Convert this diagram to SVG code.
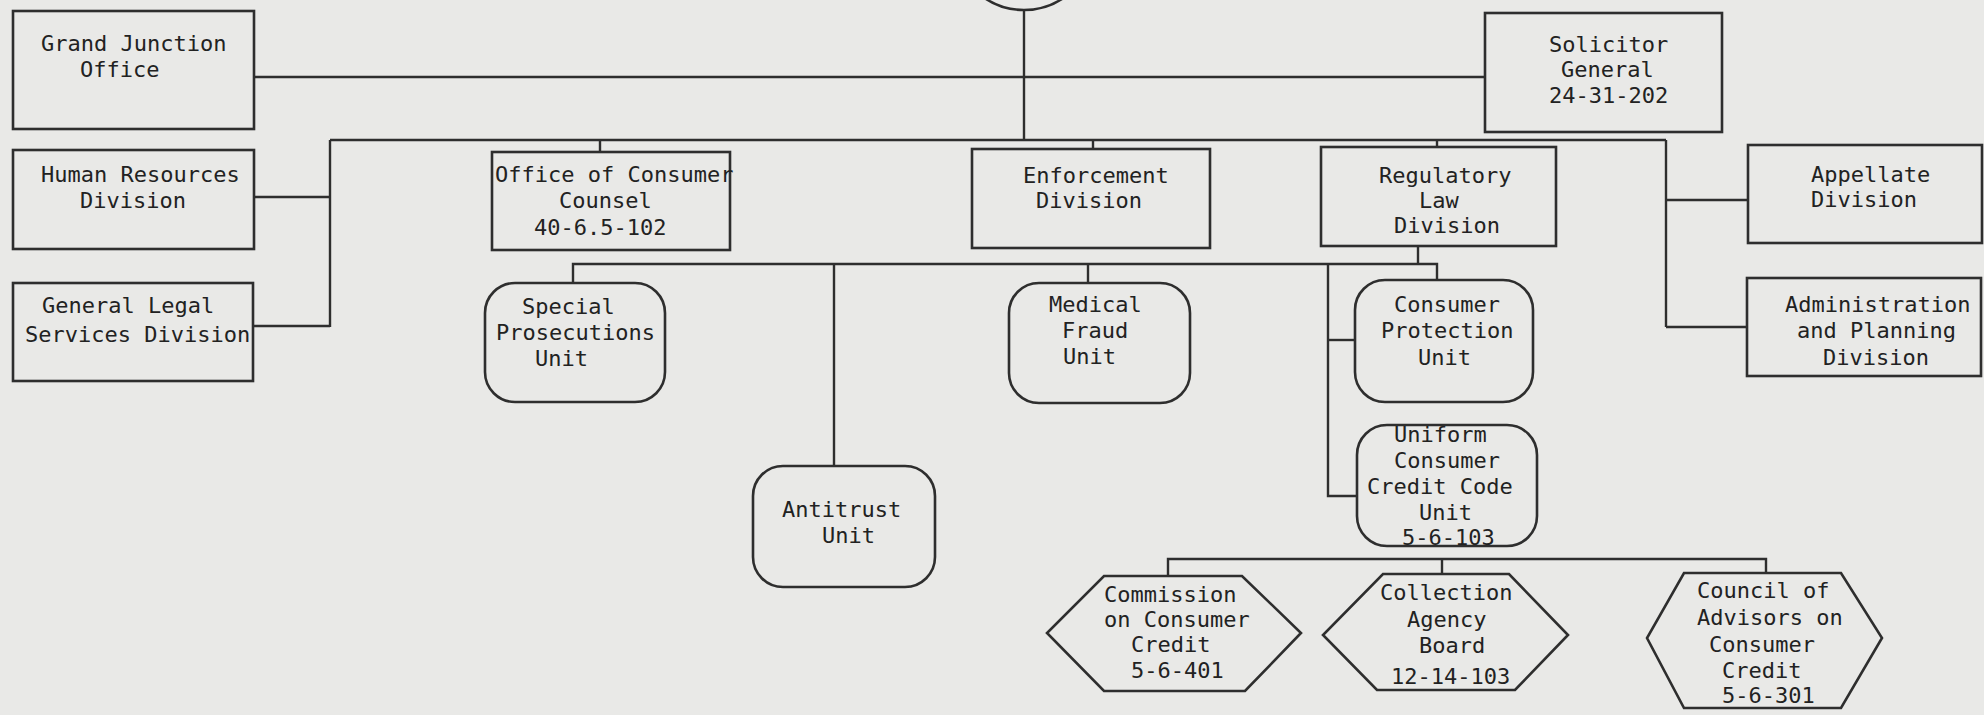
<svg xmlns="http://www.w3.org/2000/svg" width="1984" height="715" viewBox="0 0 1984 715">
<style>
.bg{fill:#e9e9e7}
.box{fill:none;stroke:#2e2e2e;stroke-width:2.6}
.ln{fill:none;stroke:#2e2e2e;stroke-width:2.4}
text{font-family:"DejaVu Sans Mono","Liberation Mono",monospace;font-size:22px;fill:#222}
</style>
<rect class="bg" x="0" y="0" width="1984" height="715"/>
<g id="connectors">
<path class="ln" d="M1024 10 V140"/>
<path class="ln" d="M254 77 H1485"/>
<path class="ln" d="M330 140 H1666"/>
<path class="ln" d="M330 140 V327"/>
<path class="ln" d="M254 197 H330"/>
<path class="ln" d="M253 326 H330"/>
<path class="ln" d="M1666 140 V327"/>
<path class="ln" d="M1666 200 H1748"/>
<path class="ln" d="M1666 327 H1747"/>
<path class="ln" d="M600 140 V152"/>
<path class="ln" d="M1093 140 V149"/>
<path class="ln" d="M1437 140 V147"/>
<path class="ln" d="M1418 246 V264"/>
<path class="ln" d="M573 283 V264 H1437 V280"/>
<path class="ln" d="M1088 264 V283"/>
<path class="ln" d="M834 264 V466"/>
<path class="ln" d="M1328 264 V496 H1357"/>
<path class="ln" d="M1328 340 H1355"/>
<path class="ln" d="M1168 576 V559 H1766 V573"/>
<path class="ln" d="M1442 559 V574"/>
</g>
<g id="top">
<circle class="box" cx="1024" cy="-60" r="70"/>
</g>
<g id="grand-junction">
<rect class="box" x="13" y="11" width="241" height="118"/>
<text x="41" y="51">Grand Junction</text>
<text x="80" y="77">Office</text>
</g>
<g id="human-resources">
<rect class="box" x="13" y="150" width="241" height="99"/>
<text x="41" y="182">Human Resources</text>
<text x="80" y="208">Division</text>
</g>
<g id="general-legal">
<rect class="box" x="13" y="283" width="240" height="98"/>
<text x="42" y="313">General Legal</text>
<text x="25" y="342">Services Division</text>
</g>
<g id="consumer-counsel">
<rect class="box" x="492" y="152" width="238" height="98"/>
<text x="495" y="182">Office of Consumer</text>
<text x="559" y="208">Counsel</text>
<text x="534" y="235">40-6.5-102</text>
</g>
<g id="enforcement">
<rect class="box" x="972" y="149" width="238" height="99"/>
<text x="1023" y="183">Enforcement</text>
<text x="1036" y="208">Division</text>
</g>
<g id="regulatory">
<rect class="box" x="1321" y="147" width="235" height="99"/>
<text x="1379" y="183">Regulatory</text>
<text x="1419" y="208">Law</text>
<text x="1394" y="233">Division</text>
</g>
<g id="solicitor-general">
<rect class="box" x="1485" y="13" width="237" height="119"/>
<text x="1549" y="52">Solicitor</text>
<text x="1561" y="77">General</text>
<text x="1549" y="103">24-31-202</text>
</g>
<g id="appellate">
<rect class="box" x="1748" y="145" width="234" height="98"/>
<text x="1811" y="182">Appellate</text>
<text x="1811" y="207">Division</text>
</g>
<g id="administration">
<rect class="box" x="1747" y="278" width="234" height="98"/>
<text x="1785" y="312">Administration</text>
<text x="1797" y="338">and Planning</text>
<text x="1823" y="365">Division</text>
</g>
<g id="special-prosecutions">
<rect class="box" x="485" y="283" width="180" height="119" rx="30" ry="30"/>
<text x="522" y="314">Special</text>
<text x="496" y="340">Prosecutions</text>
<text x="535" y="366">Unit</text>
</g>
<g id="medical-fraud">
<rect class="box" x="1009" y="283" width="181" height="120" rx="30" ry="30"/>
<text x="1049" y="312">Medical</text>
<text x="1062" y="338">Fraud</text>
<text x="1063" y="364">Unit</text>
</g>
<g id="consumer-protection">
<rect class="box" x="1355" y="280" width="178" height="122" rx="30" ry="30"/>
<text x="1394" y="312">Consumer</text>
<text x="1381" y="338">Protection</text>
<text x="1418" y="365">Unit</text>
</g>
<g id="antitrust">
<rect class="box" x="753" y="466" width="182" height="121" rx="30" ry="30"/>
<text x="782" y="517">Antitrust</text>
<text x="822" y="543">Unit</text>
</g>
<g id="uccc">
<rect class="box" x="1357" y="425" width="180" height="121" rx="30" ry="30"/>
<text x="1394" y="442">Uniform</text>
<text x="1394" y="468">Consumer</text>
<text x="1367" y="494">Credit Code</text>
<text x="1419" y="520">Unit</text>
<text x="1402" y="545">5-6-103</text>
</g>
<g id="commission">
<polygon class="box" points="1104,576 1242,576 1301,633 1245,691 1104,691 1047,633"/>
<text x="1104" y="602">Commission</text>
<text x="1104" y="627">on Consumer</text>
<text x="1131" y="652">Credit</text>
<text x="1131" y="678">5-6-401</text>
</g>
<g id="collection">
<polygon class="box" points="1383,574 1509,574 1568,635 1515,690 1377,690 1323,635"/>
<text x="1380" y="600">Collection</text>
<text x="1407" y="627">Agency</text>
<text x="1419" y="653">Board</text>
<text x="1391" y="684">12-14-103</text>
</g>
<g id="council">
<polygon class="box" points="1684,573 1841,573 1882,638 1841,708 1684,708 1647,638"/>
<text x="1697" y="598">Council of</text>
<text x="1697" y="625">Advisors on</text>
<text x="1709" y="652">Consumer</text>
<text x="1722" y="678">Credit</text>
<text x="1722" y="703">5-6-301</text>
</g>
</svg>
